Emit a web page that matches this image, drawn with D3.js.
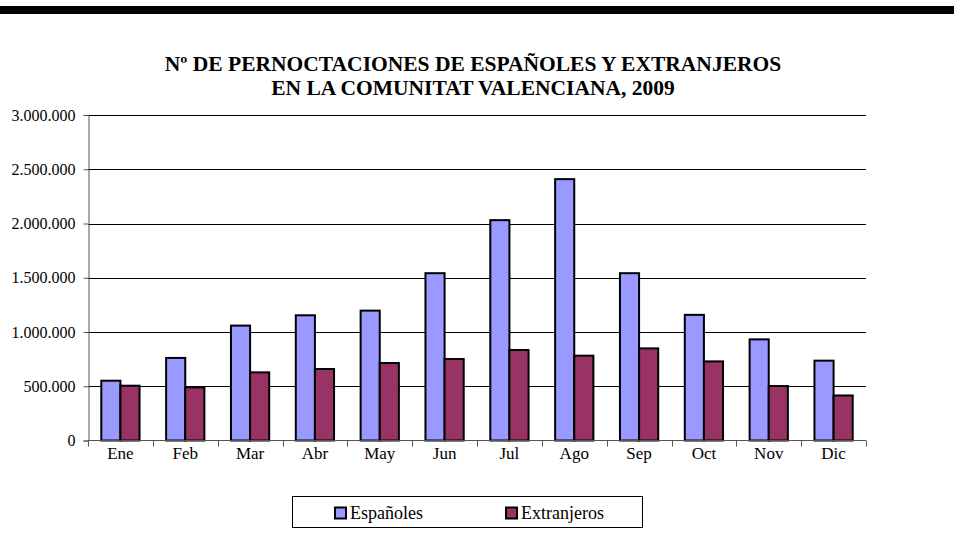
<!DOCTYPE html>
<html><head><meta charset="utf-8">
<script src="https://cdn.jsdelivr.net/npm/d3@7"></script>
<style>body{margin:0;background:#fff}svg{display:block}svg text{font-family:"Liberation Serif","Times New Roman",serif !important;fill:#000}</style>
</head><body>
<svg id="c" width="954" height="544"></svg>
<script>
const months = ["Ene","Feb","Mar","Abr","May","Jun","Jul","Ago","Sep","Oct","Nov","Dic"];
const seriesNames = ["Españoles","Extranjeros"];
const espanoles = [551000,761000,1059000,1154000,1197000,1542000,2031000,2409000,1542000,1158000,932000,736000];
const extranjeros = [505000,489000,628000,659000,714000,751000,834000,782000,849000,729000,502000,415000];
const yTicks = [0,500000,1000000,1500000,2000000,2500000,3000000];
const titleLines = ["Nº DE PERNOCTACIONES DE ESPAÑOLES Y EXTRANJEROS","EN LA COMUNITAT VALENCIANA, 2009"];
const colors = ["#9999FF","#993366"];
const serif = '"Liberation Serif","Times New Roman",serif';

const svg = d3.select("#c");
svg.append("rect").attr("x",0).attr("y",6).attr("width",954).attr("height",8).attr("fill","#000");

const L=88, R=866, T=115, B=440.5;
const x0 = d3.scaleBand().domain(months).range([L,R]).paddingInner(0.41).paddingOuter(0.205);
const x1 = d3.scaleBand().domain(seriesNames).range([0,x0.bandwidth()]);
const y = d3.scaleLinear().domain([0,3000000]).range([B,T]);
const fmt = v => d3.format(",")(v).replace(/,/g,".");

// title
svg.selectAll("text.title").data(titleLines).join("text").attr("class","title")
  .attr("x",473).attr("y",(d,i)=>71+i*24).attr("text-anchor","middle")
  .attr("font-weight","bold").attr("font-size",21.5).style("font-family",serif).text(d=>d);

// gridlines
svg.append("g").selectAll("line").data(yTicks.slice(1)).join("line")
  .attr("x1",L).attr("x2",R).attr("y1",d=>Math.round(y(d))+0.5).attr("y2",d=>Math.round(y(d))+0.5)
  .attr("stroke","#000").attr("stroke-width",1);

// y axis
const ya = svg.append("g").attr("transform",`translate(${L+0.5},0)`)
  .call(d3.axisLeft(y).tickValues(yTicks).tickFormat(fmt).tickSize(5).tickPadding(8));
ya.attr("font-family",null);
ya.select(".domain").attr("stroke","#555");
ya.selectAll(".tick line").attr("stroke","#555");
ya.selectAll("text").attr("font-size",16).style("font-family",serif);

// bars
const data = months.map((m,i)=>({m, vals:[espanoles[i],extranjeros[i]]}));
const g = svg.append("g");
g.selectAll("g").data(data).join("g").attr("transform",d=>`translate(${x0(d.m)},0)`)
  .selectAll("rect").data(d=>d.vals.map((v,j)=>({v,j}))).join("rect")
  .attr("x",d=>x1(seriesNames[d.j])).attr("width",x1.bandwidth())
  .attr("y",d=>y(d.v)).attr("height",d=>B-y(d.v))
  .attr("fill",d=>colors[d.j]).attr("stroke","#000").attr("stroke-width",2);

// x axis
const step = x0.step();
const bounds = d3.range(13).map(i=>L+i*step);
const xa = svg.append("g");
xa.append("line").attr("x1",L).attr("x2",R).attr("y1",B).attr("y2",B).attr("stroke","#555");
xa.selectAll("line.t").data(bounds).join("line").attr("class","t")
  .attr("x1",d=>Math.round(d)+0.5).attr("x2",d=>Math.round(d)+0.5).attr("y1",B).attr("y2",B+6).attr("stroke","#555");
xa.selectAll("text").data(months).join("text")
  .attr("x",d=>x0(d)+x0.bandwidth()/2).attr("y",459).attr("text-anchor","middle")
  .attr("font-size",17).style("font-family",serif).text(d=>d);

// legend
const lg = svg.append("g");
lg.append("rect").attr("x",292.5).attr("y",496.5).attr("width",350).attr("height",31)
  .attr("fill","#fff").attr("stroke","#000").attr("stroke-width",1);
const lx = [334,505];
seriesNames.forEach((s,i)=>{
  lg.append("rect").attr("x",lx[i]+1).attr("y",507.5).attr("width",11).attr("height",11)
    .attr("fill",colors[i]).attr("stroke","#000").attr("stroke-width",2);
  lg.append("text").attr("x",lx[i]+16).attr("y",519).attr("font-size",18).style("font-family",serif).text(s);
});
</script>
</body></html>
